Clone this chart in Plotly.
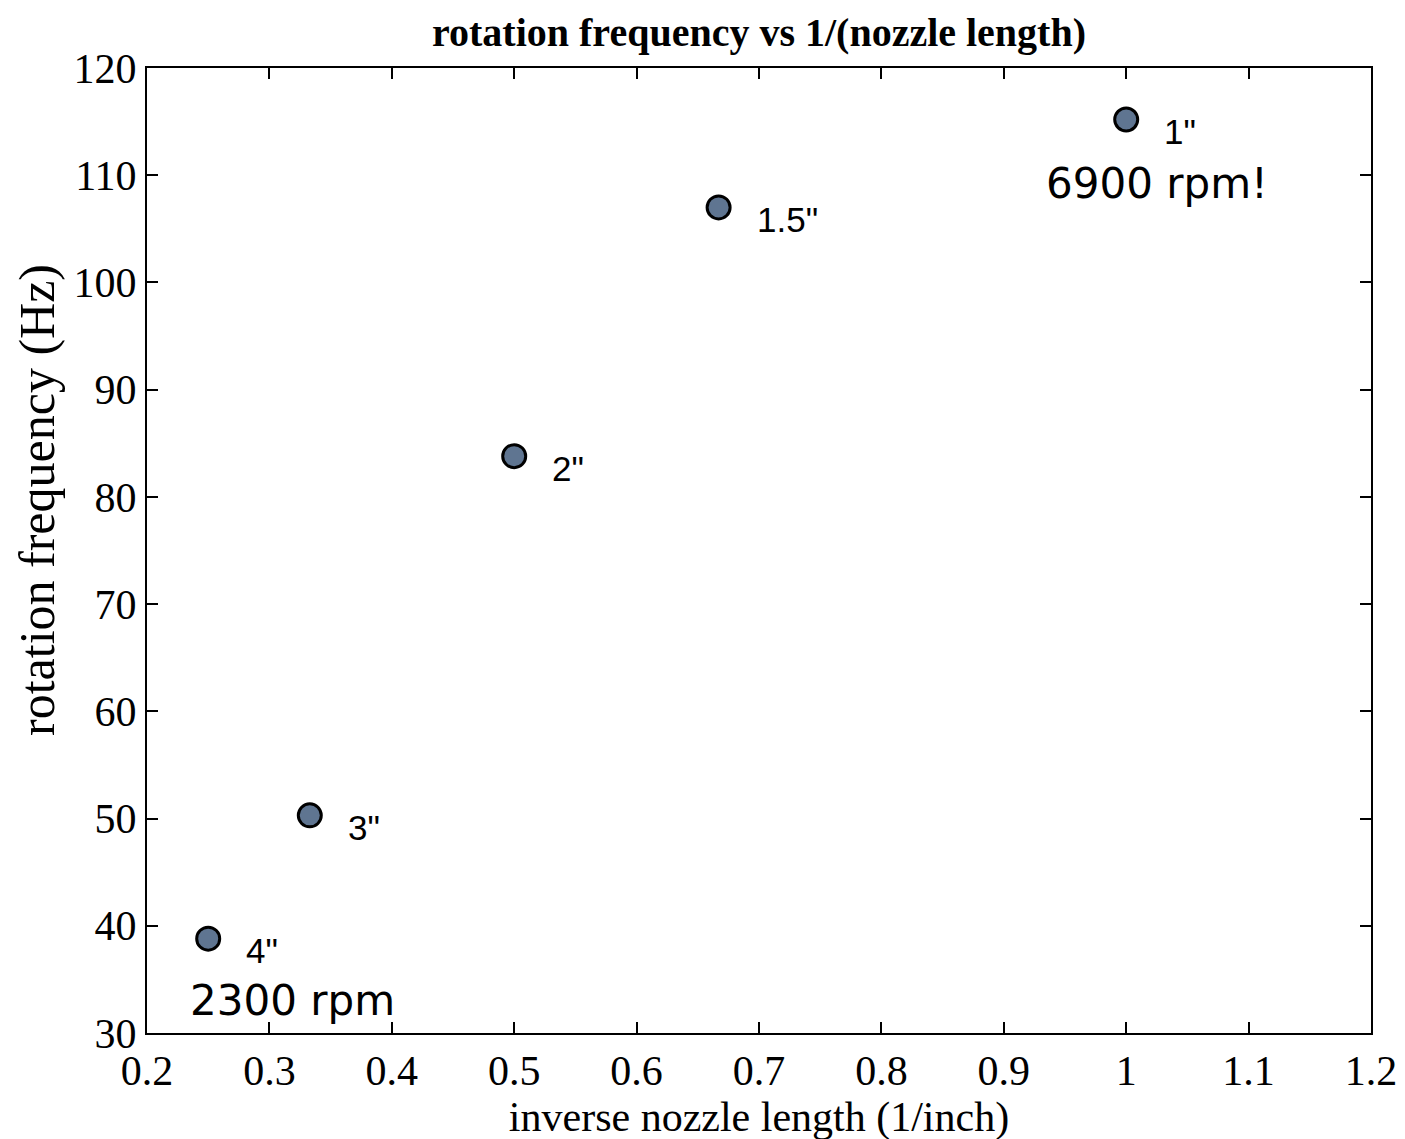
import plotly.graph_objects as go

inv_length = [0.25, 0.333, 0.5, 0.667, 1.0]
freq_hz = [38.8, 50.3, 83.8, 107.0, 115.2]
nozzle_labels = ['4"', '3"', '2"', '1.5"', '1"']
x_ticks = [0.2, 0.3, 0.4, 0.5, 0.6, 0.7, 0.8, 0.9, 1.0, 1.1, 1.2]
x_tick_text = ["0.2", "0.3", "0.4", "0.5", "0.6", "0.7", "0.8", "0.9", "1", "1.1", "1.2"]
y_ticks = [30, 40, 50, 60, 70, 80, 90, 100, 110, 120]

fig = go.Figure()
fig.add_trace(go.Scatter(
    x=inv_length, y=freq_hz, mode="markers",
    marker=dict(size=23, color="#5f7591", line=dict(color="black", width=3)),
    showlegend=False,
))

for xv, yv, lab in zip(inv_length, freq_hz, nozzle_labels):
    fig.add_annotation(x=xv, y=yv, text=lab, showarrow=False,
                       xanchor="left", yanchor="middle", xshift=36, yshift=-12,
                       font=dict(family="Liberation Sans", size=35, color="black"))

fig.add_annotation(x=inv_length[0], y=freq_hz[0], text="2300 rpm", showarrow=False,
                   xanchor="left", yanchor="middle", xshift=-20, yshift=-62,
                   font=dict(family="DejaVu Sans", size=42, color="black"))
fig.add_annotation(x=inv_length[4], y=freq_hz[4], text="6900 rpm!", showarrow=False,
                   xanchor="left", yanchor="middle", xshift=-82, yshift=-64,
                   font=dict(family="DejaVu Sans", size=42, color="black"))

# y-axis title (placed as in the reference, slightly above the axis centre)
fig.add_annotation(text="rotation frequency (Hz)", textangle=-90, showarrow=False,
                   xref="paper", yref="paper", x=0, y=(1025 - 492) / 965,
                   xanchor="center", yanchor="middle", xshift=-110,
                   font=dict(family="Liberation Serif", size=50, color="black"))

# plot title as an annotation anchored to the top of the plot area
fig.add_annotation(text="<b>rotation frequency vs 1/(nozzle length)</b>", showarrow=False,
                   xref="paper", yref="paper", x=0.5, y=1,
                   xanchor="center", yanchor="bottom", yshift=11,
                   font=dict(family="Liberation Serif", size=40, color="black"))

axis_common = dict(
    showgrid=False, zeroline=False, showline=True, linecolor="black", linewidth=2,
    mirror="allticks", ticks="inside", ticklen=11, tickwidth=1.5, tickcolor="black",
    tickfont=dict(family="Liberation Serif", size=42, color="black"),
)

fig.update_xaxes(range=[0.2, 1.2], tickvals=x_ticks, ticktext=x_tick_text,
                 title=dict(text="inverse nozzle length (1/inch)", standoff=4,
                            font=dict(family="Liberation Serif", size=42, color="black")),
                 **axis_common)
fig.update_yaxes(range=[30, 120], tickvals=y_ticks, **axis_common)

fig.update_layout(
    width=1405, height=1139,
    margin=dict(l=139, r=42, t=60, b=114),
    paper_bgcolor="white", plot_bgcolor="white",
)

fig.write_html("out.html")
